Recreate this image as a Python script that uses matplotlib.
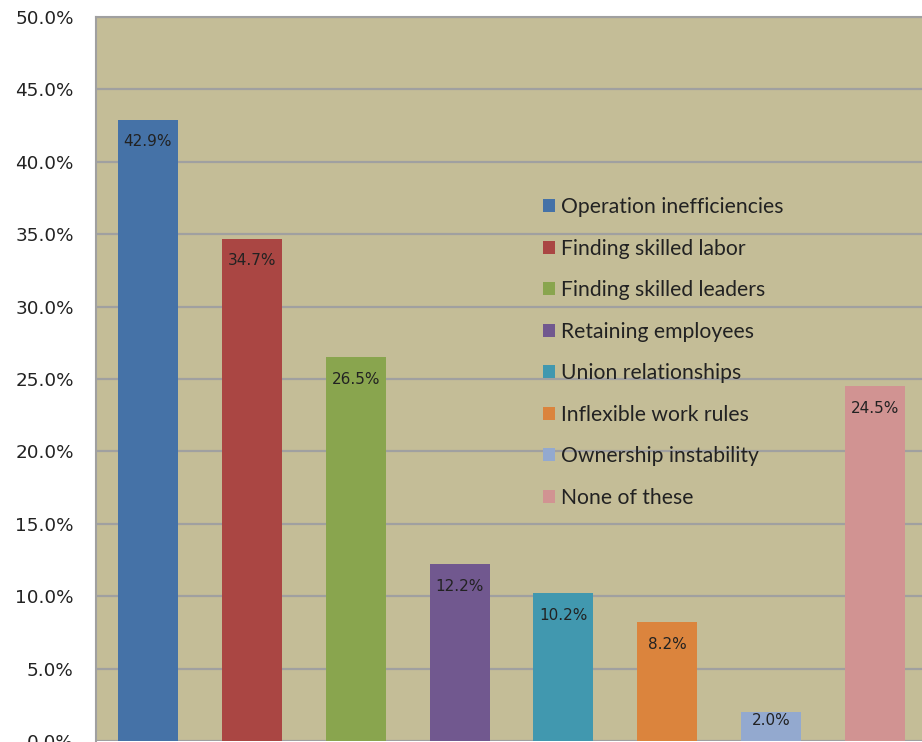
import matplotlib
matplotlib.use("Agg")
import matplotlib.pyplot as plt
from matplotlib.patches import Patch

categories = ["Operation inefficiencies", "Finding skilled labor", "Finding skilled leaders",
              "Retaining employees", "Union relationships", "Inflexible work rules",
              "Ownership instability", "None of these"]
values = [42.9, 34.7, 26.5, 12.2, 10.2, 8.2, 2.0, 24.5]
colors = ["#4572A7", "#AA4643", "#89A54E", "#71588F", "#4198AF", "#DB843D", "#93A9CF", "#D19392"]
yticks = [0, 5, 10, 15, 20, 25, 30, 35, 40, 45, 50]

W, H = 922, 742
fig = plt.figure(figsize=(W / 100, H / 100), dpi=100)
fig.patch.set_facecolor("white")

# plot area runs off the right and bottom edges like the reference
left, right, top, bottom = 96, 927, 17, 741
ax = fig.add_axes([left / W, 1 - bottom / H, (right - left) / W, (bottom - top) / H])
ax.set_facecolor("#C4BD97")

x = list(range(len(values)))
bars = ax.bar(x, values, width=0.577, color=colors, zorder=3)
ax.set_xlim(-0.5, len(values) - 0.5)
ax.set_ylim(0, 50)

ax.set_yticks(yticks)
ax.set_yticklabels([f"{v:.1f}%" for v in yticks], fontsize=13.2, color="#222222")
ax.tick_params(axis="y", length=0, pad=16)
ax.set_xticks([])
ax.yaxis.grid(True, color="#A0A0A0", linewidth=1.6, zorder=1)
ax.set_axisbelow(True)

for side in ["left", "top"]:
    ax.spines[side].set_color("#A0A0A0")
    ax.spines[side].set_linewidth(1.5)
for side in ["right", "bottom"]:
    ax.spines[side].set_visible(False)

for xi, v in zip(x, values):
    bar_px = v * (bottom - top) / 50
    off_px = 22 if bar_px > 40 else 8
    ax.annotate(f"{v:.1f}%", (xi, v), xytext=(0, -off_px * 72 / 100), textcoords="offset points",
                ha="center", va="center", fontsize=11, color="#222222", zorder=4)

handles = [Patch(facecolor=c, edgecolor="none") for c in colors]
ax.legend(handles, categories, loc="upper left", bbox_to_anchor=(543 / W, 1 - 197 / H),
          bbox_transform=fig.transFigure, frameon=False,
          prop={"family": "Lato", "size": 15.2},
          handlelength=0.58, handleheight=0.58, handletextpad=0.25,
          labelspacing=1.02, borderpad=0, borderaxespad=0, labelcolor="#222222")

fig.savefig("out.png", dpi=100)
